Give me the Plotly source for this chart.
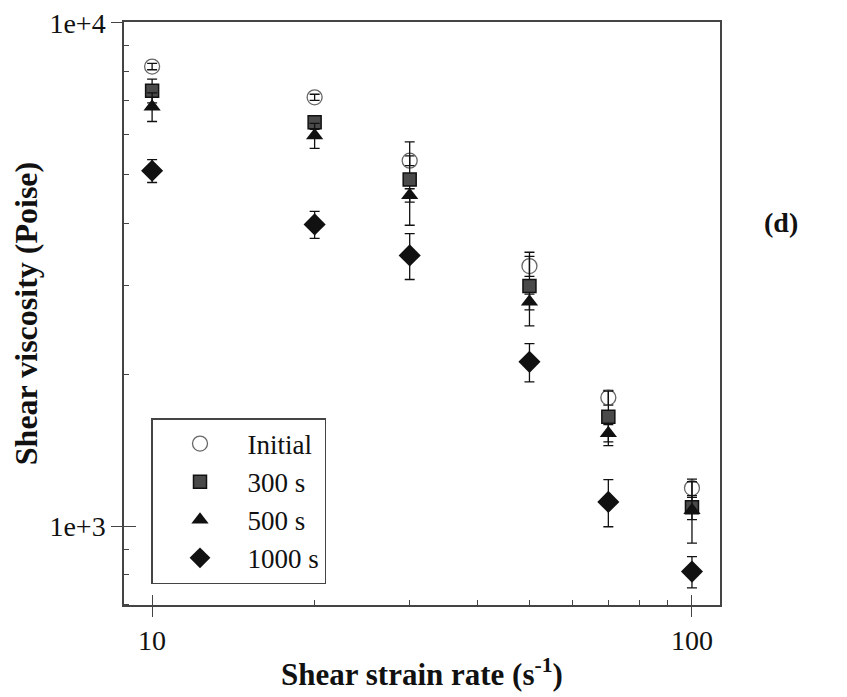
import plotly.graph_objects as go
import math

# ---- data ----
shear_rate = [10, 20, 30, 50, 70, 100]

initial = [8185, 7110, 5320, 3285, 1800, 1190]
initial_err = [120, 100, 120, 150, 60, 50]

s300 = [7330, 6340, 4880, 3000, 1650, 1090]
s300_err = [400, 200, 920, 500, 205, 60]

s500 = [6810, 5970, 4540, 2790, 1530, 1075]
s500_err = [444, 340, 140, 100, 60, 150]

s1000 = [5080, 3975, 3450, 2120, 1117, 812]
s1000_err = [265, 245, 360, 185, 120, 58]

series_names = ["Initial", "300 s", "500 s", "1000 s"]

x_major = [10, 100]
x_major_text = ["10", "100"]
x_minor = [20, 30, 40, 50, 60, 70, 80, 90]
y_major = [1000, 10000]
y_major_text = ["1e+3", "1e+4"]
y_minor = [700, 800, 900, 2000, 3000, 4000, 5000, 6000, 7000, 8000, 9000]

FONT = "Liberation Serif, Times New Roman, serif"
INK = "#111111"
AX = "#444444"

# page offset of the plot div (default body margin)
OFF = 8
W, H = 847 - OFF, 697 - OFF
L, R, T, B = 124 - OFF, 127, 22 - OFF, 92

fig = go.Figure()

def err(vals):
    return dict(type="data", array=vals, visible=True, color=INK, thickness=1.3, width=5)

fig.add_trace(go.Scatter(
    x=shear_rate, y=initial, error_y=err(initial_err), mode="markers", name=series_names[0],
    marker=dict(symbol="circle-open", size=15, color="#666666", line=dict(width=1.3, color="#666666"))))
fig.add_trace(go.Scatter(
    x=shear_rate, y=s300, error_y=err(s300_err), mode="markers", name=series_names[1],
    marker=dict(symbol="square", size=13, color="#4a4a4a", line=dict(width=1.5, color=INK))))
fig.add_trace(go.Scatter(
    x=shear_rate, y=s500, error_y=err(s500_err), mode="markers", name=series_names[2],
    marker=dict(symbol="triangle-up", size=15, color=INK, line=dict(width=0))))
fig.add_trace(go.Scatter(
    x=shear_rate, y=s1000, error_y=err(s1000_err), mode="markers", name=series_names[3],
    marker=dict(symbol="diamond", size=17, color=INK, line=dict(width=0))))

# empty trace that holds the overlay axes (inner half of the crossing major ticks)
fig.add_trace(go.Scatter(x=[], y=[], xaxis="x2", yaxis="y2", showlegend=False, hoverinfo="skip"))

xr = [math.log10(8.87), math.log10(112.7)]
yr = [math.log10(697), 4.0015]

pw = W - L - R
ph = H - T - B

fig.update_layout(
    width=W, height=H,
    margin=dict(l=L, r=R, t=T, b=B, autoexpand=False),
    paper_bgcolor="white", plot_bgcolor="white",
    font=dict(family=FONT, color=INK, size=28),
    showlegend=True,
    legend=dict(
        x=(151 - 124) / pw, y=(605 - 418) / ph, xanchor="left", yanchor="top",
        bgcolor="white", bordercolor=AX, borderwidth=1.5,
        font=dict(family=FONT, size=27, color=INK),
        itemwidth=85, tracegroupgap=0,
    ),
    xaxis=dict(
        type="log", range=xr, showgrid=False, zeroline=False, automargin=False,
        showline=True, linecolor=AX, linewidth=1.5, mirror=True,
        tickmode="array", tickvals=x_major, ticktext=x_major_text,
        ticks="outside", ticklen=10, tickwidth=1.3, tickcolor=AX,
        ticklabeloverflow="allow",
        tickfont=dict(family=FONT, size=28, color=INK),
        minor=dict(tickmode="array", tickvals=x_minor, ticks="inside", ticklen=5, tickwidth=1, tickcolor=AX, showgrid=False),
        title=dict(text="<b>Shear strain rate (s<sup>-1</sup>)</b>", font=dict(family=FONT, size=31, color=INK), standoff=8),
    ),
    yaxis=dict(
        type="log", range=yr, showgrid=False, zeroline=False, automargin=False,
        showline=True, linecolor=AX, linewidth=1.5, mirror=True,
        tickmode="array", tickvals=y_major, ticktext=y_major_text,
        ticks="outside", ticklen=11, tickwidth=1.3, tickcolor=AX,
        ticklabeloverflow="allow",
        tickfont=dict(family=FONT, size=28, color=INK),
        minor=dict(tickmode="array", tickvals=y_minor, ticks="inside", ticklen=5, tickwidth=1, tickcolor=AX, showgrid=False),
        title=dict(text="<b>Shear viscosity (Poise)</b>", font=dict(family=FONT, size=32, color=INK), standoff=6),
    ),
    xaxis2=dict(
        type="log", range=xr, overlaying="x", anchor="y", side="bottom", automargin=False,
        showgrid=False, zeroline=False, showline=False, showticklabels=False,
        tickmode="array", tickvals=x_major, ticks="inside", ticklen=10, tickwidth=1.3, tickcolor=AX,
    ),
    yaxis2=dict(
        type="log", range=yr, overlaying="y", anchor="x", side="left", automargin=False,
        showgrid=False, zeroline=False, showline=False, showticklabels=False,
        tickmode="array", tickvals=y_major, ticks="inside", ticklen=12, tickwidth=1.3, tickcolor=AX,
    ),
    annotations=[dict(
        text="<b>(d)</b>", x=(800 - 124) / pw, y=(605 - 222) / ph, xref="paper", yref="paper", showarrow=False,
        font=dict(family=FONT, size=28, color=INK),
    )],
)

fig.write_html("out.html")
